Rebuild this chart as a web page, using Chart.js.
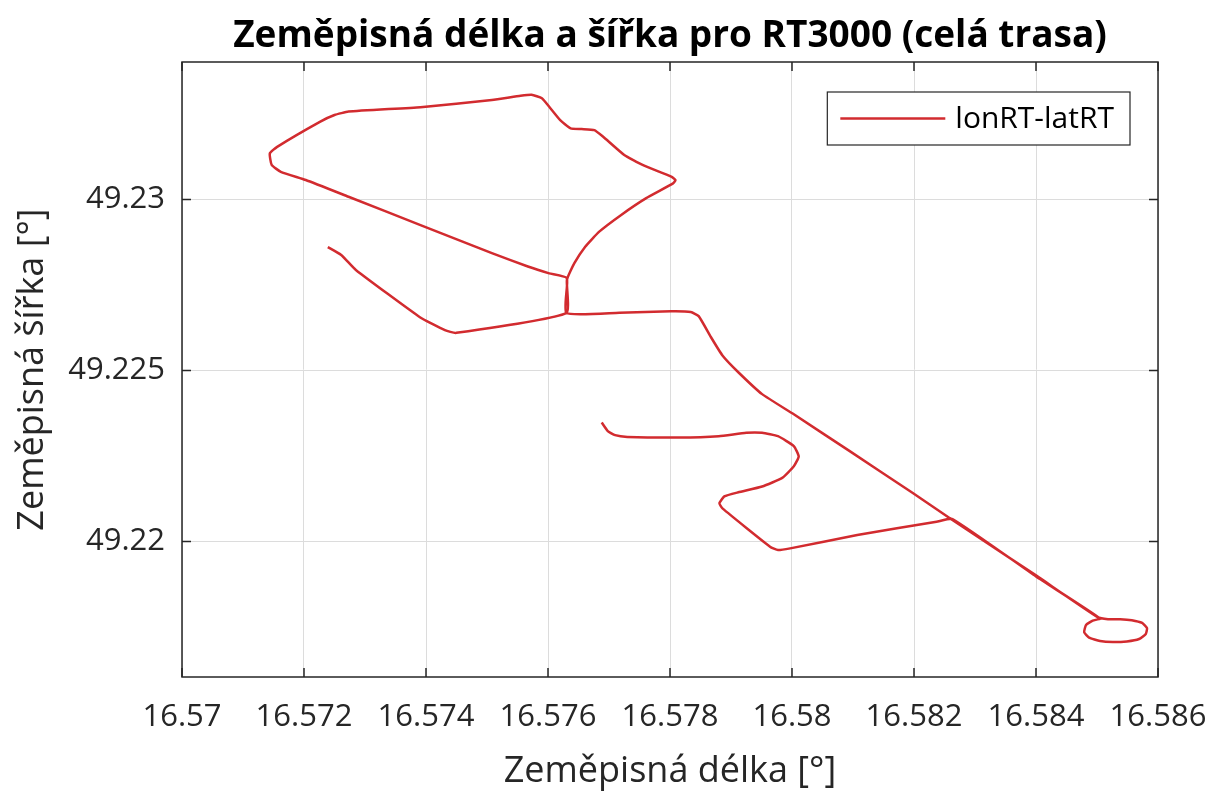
<!DOCTYPE html>
<html>
<head>
<meta charset="utf-8">
<script src="https://cdn.jsdelivr.net/npm/chart.js@4.4.1/dist/chart.umd.min.js"></script>
<style>
  body { margin: 0; background: #fff; }
  #wrap { width: 1212px; height: 793px; }
</style>
</head>
<body>
<div id="wrap"><canvas id="gpsChart"></canvas></div>
<script>
// track, in driving order
const lonRT = [
  16.57239, 16.57261, 16.57285, 16.57390, 16.57431, 16.57449, 16.57630, 16.57631,
  16.57643, 16.57661, 16.57684, 16.57720, 16.57761, 16.57805, 16.57809, 16.57802,
  16.57755, 16.57725, 16.57690, 16.57676, 16.57655, 16.57637, 16.57620, 16.57602,
  16.57590, 16.57573, 16.57555, 16.57508, 16.57391, 16.57273, 16.57250, 16.57226,
  16.57156, 16.57144, 16.57147, 16.57162, 16.57203, 16.57273, 16.57391, 16.57508,
  16.57567, 16.57602, 16.57631, 16.57630, 16.57717, 16.57802, 16.57834, 16.57847,
  16.57867, 16.57886, 16.57912, 16.57951, 16.58003, 16.58094, 16.58198, 16.58263,
  16.58400, 16.58501,
  // turning loop
  16.58518, 16.58538, 16.58557, 16.58574, 16.58582, 16.58580, 16.58569, 16.58549,
  16.58526, 16.58505, 16.58487, 16.58479, 16.58482, 16.58493, 16.58505,
  // way back
  16.58400, 16.58263, 16.58237, 16.58107, 16.57997,
  16.57977, 16.57964, 16.57886, 16.57881, 16.57889, 16.57912, 16.57951, 16.57984,
  16.58003, 16.58011, 16.58003, 16.57977, 16.57951, 16.57925, 16.57880, 16.57815,
  16.57730, 16.57710, 16.57698, 16.57688
];
const latRT = [
  49.22861, 49.22838, 49.22794, 49.22656, 49.22618, 49.22610, 49.22668, 49.22765,
  49.22813, 49.22862, 49.22906, 49.22955, 49.23004, 49.23047, 49.23057, 49.23067,
  49.23101, 49.23130, 49.23184, 49.23203, 49.23206, 49.23208, 49.23232, 49.23271,
  49.23296, 49.23306, 49.23303, 49.23291, 49.23270, 49.23257, 49.23247, 49.23227,
  49.23154, 49.23135, 49.23101, 49.23081, 49.23057, 49.23008, 49.22925, 49.22843,
  49.22804, 49.22784, 49.22770, 49.22668, 49.22669, 49.22673, 49.22671, 49.22659,
  49.22598, 49.22544, 49.22495, 49.22431, 49.22372, 49.22265, 49.22142, 49.22063,
  49.21901, 49.21779,
  // turning loop
  49.21773, 49.21773, 49.21770, 49.21762, 49.21747, 49.21730, 49.21715, 49.21708,
  49.21706, 49.21709, 49.21719, 49.21735, 49.21756, 49.21769, 49.21775,
  // way back
  49.21898, 49.22066, 49.22058, 49.22019, 49.21980,
  49.21975, 49.21985, 49.22097, 49.22112, 49.22132, 49.22144, 49.22161, 49.22186,
  49.22220, 49.22249, 49.22279, 49.22308, 49.22318, 49.22318, 49.22308, 49.22304,
  49.22306, 49.22311, 49.22323, 49.22348
];

const xTicks = [16.57, 16.572, 16.574, 16.576, 16.578, 16.58, 16.582, 16.584, 16.586];
const xTickLabels = ["16.57", "16.572", "16.574", "16.576", "16.578", "16.58", "16.582", "16.584", "16.586"];
const yTicks = [49.22, 49.225, 49.23];
const yTickLabels = ["49.22", "49.225", "49.23"];
const xLimits = [16.57, 16.586];
const yLimits = [49.21604, 49.23402];

const chartTitle = "Zeměpisná délka a šířka pro RT3000 (celá trasa)";
const FONT = "'Open Sans', 'Noto Sans', sans-serif";
const AXIS = "#262626";

// title centred over the axes, not over the whole canvas
const axesTitlePlugin = {
  id: "axesTitle",
  afterDraw(chart) {
    const { ctx, chartArea: a } = chart;
    ctx.save();
    ctx.font = "bold 37px " + FONT;
    ctx.fillStyle = "#000";
    ctx.textAlign = "center";
    ctx.textBaseline = "alphabetic";
    ctx.fillText(chartTitle, (a.left + a.right) / 2, 47);
    ctx.restore();
  },
};

// matlab-like box with inward ticks
const boxPlugin = {
  id: "box",
  afterDraw(chart) {
    const { ctx, chartArea: a, scales } = chart;
    const len = 9;
    ctx.save();
    ctx.strokeStyle = AXIS;
    ctx.lineWidth = 1.5;
    ctx.beginPath();
    scales.x.ticks.forEach((t) => {
      const px = scales.x.getPixelForValue(t.value);
      ctx.moveTo(px, a.bottom); ctx.lineTo(px, a.bottom - len);
      ctx.moveTo(px, a.top); ctx.lineTo(px, a.top + len);
    });
    scales.y.ticks.forEach((t) => {
      const py = scales.y.getPixelForValue(t.value);
      ctx.moveTo(a.left, py); ctx.lineTo(a.left + len, py);
      ctx.moveTo(a.right, py); ctx.lineTo(a.right - len, py);
    });
    ctx.stroke();
    ctx.strokeRect(a.left, a.top, a.right - a.left, a.bottom - a.top);
    ctx.restore();
  },
};

// legend box in the top right corner of the axes
const legendBoxPlugin = {
  id: "legendBox",
  afterDraw(chart) {
    const { ctx, chartArea: a } = chart;
    const ds = chart.data.datasets[0];
    ctx.save();
    ctx.font = "30px " + FONT;
    const tw = ctx.measureText(ds.label).width;
    const w = 13 + 105 + 10 + tw + 16;
    const h = 53;
    const x = a.right - 28 - w;
    const y = a.top + 30;
    ctx.fillStyle = "#fff";
    ctx.fillRect(x, y, w, h);
    ctx.strokeStyle = AXIS;
    ctx.lineWidth = 1.2;
    ctx.strokeRect(x, y, w, h);
    ctx.strokeStyle = ds.borderColor;
    ctx.lineWidth = 2.5;
    ctx.beginPath();
    ctx.moveTo(x + 13, y + h / 2);
    ctx.lineTo(x + 118, y + h / 2);
    ctx.stroke();
    ctx.fillStyle = "#000";
    ctx.textBaseline = "middle";
    ctx.fillText(ds.label, x + 128, y + h / 2 + 1);
    ctx.restore();
  },
};

new Chart(document.getElementById("gpsChart"), {
  type: "scatter",
  data: {
    datasets: [
      {
        label: "lonRT-latRT",
        data: lonRT.map((lon, i) => ({ x: lon, y: latRT[i] })),
        showLine: true,
        borderColor: "#D22B2F",
        borderWidth: 2.5,
        pointRadius: 0,
        tension: 0.15,
        fill: false,
      },
    ],
  },
  options: {
    responsive: true,
    maintainAspectRatio: false,
    animation: false,
    layout: { padding: { left: 0, right: 54, top: 62, bottom: 0 } },
    plugins: {
      title: { display: false },
      legend: { display: false },
      tooltip: { enabled: false },
    },
    scales: {
      x: {
        type: "linear",
        min: xLimits[0],
        max: xLimits[1],
        afterBuildTicks: (s) => { s.ticks = xTicks.map((v) => ({ value: v })); },
        afterFit: (s) => {
          s.height = 116;
          s.paddingLeft = 0;
          s.paddingRight = 0;
        },
        ticks: {
          callback: (v, i) => xTickLabels[i],
          color: AXIS,
          font: { family: FONT, size: 31 },
          padding: 22,
          maxRotation: 0,
          autoSkip: false,
        },
        grid: { color: "#dcdcdc", drawTicks: false },
        border: { display: false },
        title: {
          display: true,
          text: "Zeměpisná délka [°]",
          color: AXIS,
          font: { family: FONT, size: 36 },
          padding: { top: 0, bottom: 0 },
        },
      },
      y: {
        type: "linear",
        min: yLimits[0],
        max: yLimits[1],
        afterBuildTicks: (s) => { s.ticks = yTicks.map((v) => ({ value: v })); },
        afterFit: (s) => {
          s.width = 182;
          s.paddingTop = 0;
          s.paddingBottom = 0;
        },
        ticks: {
          callback: (v, i) => yTickLabels[i],
          color: AXIS,
          font: { family: FONT, size: 31 },
          padding: 17,
          autoSkip: false,
        },
        grid: { color: "#dcdcdc", drawTicks: false },
        border: { display: false },
        title: {
          display: true,
          text: "Zeměpisná šířka [°]",
          color: AXIS,
          font: { family: FONT, size: 36 },
          padding: { top: 11, bottom: 0 },
        },
      },
    },
  },
  plugins: [axesTitlePlugin, boxPlugin, legendBoxPlugin],
});
</script>
</body>
</html>
